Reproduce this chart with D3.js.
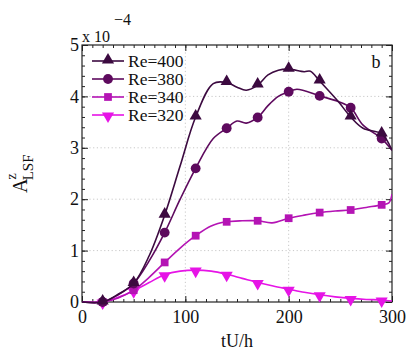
<!DOCTYPE html>
<html><head><meta charset="utf-8">
<script src="https://cdn.jsdelivr.net/npm/d3@7"></script>
<style>body{margin:0;background:#fff}svg{display:block}svg text{font-family:"Liberation Serif","Tinos","Times New Roman",serif;fill:#111}</style>
</head><body><svg id="c" width="411" height="353"></svg>
<script>
// ---- data ----
const seriesNames = ["Re=400", "Re=380", "Re=340", "Re=320"];
const seriesColors = ["#3c0a40", "#5e0a5e", "#b414b4", "#e614e6"];
const seriesSymbols = ["triangle", "circle", "square", "triangleDown"];
const markerT = [20, 50, 80, 110, 140, 170, 200, 230, 260, 290];

const re400T = [0, 20, 35, 50, 65, 80, 95, 110, 127, 140, 150, 159, 170, 180, 190, 200, 215, 221, 230, 248, 260, 272, 290, 300];
const re400V = [0, 0, 0.15, 0.36, 0.9, 1.69, 2.65, 3.6, 4.25, 4.27, 4.18, 4.12, 4.22, 4.42, 4.51, 4.53, 4.48, 4.49, 4.30, 3.9, 3.6, 3.38, 3.27, 2.95];
const re380T = [0, 20, 35, 50, 65, 80, 95, 110, 127, 140, 150, 159, 170, 180, 190, 200, 208, 230, 248, 260, 272, 290, 300];
const re380V = [0, 0, 0.14, 0.36, 0.8, 1.35, 2.0, 2.6, 3.18, 3.38, 3.52, 3.48, 3.59, 3.82, 4.0, 4.09, 4.14, 4.01, 3.9, 3.78, 3.44, 3.18, 2.95];
const re340T = [0, 20, 35, 50, 65, 80, 95, 110, 125, 140, 155, 170, 184, 200, 215, 230, 245, 260, 275, 290, 297, 300];
const re340V = [0, 0, 0.08, 0.23, 0.48, 0.77, 1.05, 1.29, 1.48, 1.56, 1.58, 1.58, 1.54, 1.63, 1.69, 1.74, 1.77, 1.79, 1.84, 1.89, 1.93, 2.1];
const re320T = [0, 20, 35, 50, 65, 80, 95, 110, 125, 140, 155, 170, 185, 200, 215, 230, 245, 260, 275, 290, 300];
const re320V = [0, 0, 0.09, 0.22, 0.38, 0.53, 0.6, 0.62, 0.6, 0.54, 0.46, 0.38, 0.31, 0.25, 0.19, 0.14, 0.1, 0.07, 0.05, 0.04, 0.02];

const xTicks = [0, 100, 200, 300];
const yTicks = [0, 1, 2, 3, 4, 5];
const xLabel = "tU/h";
const panelLabel = "b";

// ---- layout ----
const FONT = '"Liberation Serif","Tinos","Times New Roman",serif';
const svg = d3.select("#c");
const L = 82, R = 392, T = 45, B = 302;
const x = d3.scaleLinear().domain([0, 300]).range([L, R]);
const y = d3.scaleLinear().domain([0, 5]).range([B, T]);

const seriesT = [re400T, re380T, re340T, re320T];
const seriesV = [re400V, re380V, re340V, re320V];

// grid
const grid = svg.append("g").attr("stroke", "#c8c8c8").attr("stroke-width", 1).attr("stroke-dasharray", "1.2,2.5");
xTicks.slice(1, -1).forEach(t => grid.append("line").attr("x1", x(t)).attr("x2", x(t)).attr("y1", T).attr("y2", B));
yTicks.slice(1, -1).forEach(t => grid.append("line").attr("x1", L).attr("x2", R).attr("y1", y(t)).attr("y2", y(t)));

function addTicks(axisFn, scale, tickVals, len, transform) {
  const a = axisFn(scale).tickValues(tickVals).tickSize(len).tickFormat("");
  const g = svg.append("g").attr("transform", transform).call(a);
  g.select(".domain").remove();
  g.selectAll(".tick line").attr("stroke", "#222");
  return g;
}
function styleText(g) {
  g.attr("font-family", FONT);
  g.selectAll("text").style("font-size", "18px").style("font-family", FONT).attr("fill", "#111");
}
const xMinor = d3.range(0, 301, 10);
const yMinor = d3.range(0, 26).map(k => k * 0.2);
// bottom
addTicks(d3.axisTop, x, xMinor, 3, `translate(0,${B})`);
addTicks(d3.axisTop, x, xTicks, 6, `translate(0,${B})`);
const gxl = svg.append("g").attr("transform", `translate(0,${B})`)
  .call(d3.axisBottom(x).tickValues(xTicks).tickSize(0).tickPadding(8).tickFormat(d3.format("d")));
gxl.select(".domain").remove();
styleText(gxl);
// top
addTicks(d3.axisBottom, x, xMinor, 3, `translate(0,${T})`);
addTicks(d3.axisBottom, x, xTicks, 6, `translate(0,${T})`);
// left
addTicks(d3.axisRight, y, yMinor, 3, `translate(${L},0)`);
addTicks(d3.axisRight, y, yTicks, 6, `translate(${L},0)`);
const gyl = svg.append("g").attr("transform", `translate(${L},0)`)
  .call(d3.axisLeft(y).tickValues(yTicks).tickSize(0).tickPadding(3).tickFormat(d3.format("d")));
gyl.select(".domain").remove();
styleText(gyl);
// right
addTicks(d3.axisLeft, y, yMinor, 3, `translate(${R},0)`);
addTicks(d3.axisLeft, y, yTicks, 6, `translate(${R},0)`);

// frame
svg.append("rect").attr("x", L).attr("y", T).attr("width", R - L).attr("height", B - T)
  .attr("fill", "none").attr("stroke", "#222").attr("stroke-width", 1.2);

// clip
svg.append("clipPath").attr("id", "clip").append("rect").attr("x", L).attr("y", T - 2).attr("width", R - L).attr("height", B - T + 4);

const line = d3.line().x(d => x(d[0])).y(d => y(d[1])).curve(d3.curveCatmullRom.alpha(0.5));
const symMap = { triangle: d3.symbolTriangle, circle: d3.symbolCircle, square: d3.symbolSquare };
function symbolPath(name, size) {
  if (name === "triangleDown") return d3.symbol(d3.symbolTriangle, size)();
  return d3.symbol(symMap[name], size)();
}
function symbolTransform(name, px, py) {
  if (name === "triangleDown") return `translate(${px},${py + 1}) rotate(180)`;
  if (name === "triangle") return `translate(${px},${py - 1})`;
  return `translate(${px},${py})`;
}
const symSize = {triangle: 64, circle: 76, square: 60, triangleDown: 64};

for (let i = 3; i >= 0; i--) {
  const pts = seriesT[i].map((t, k) => [t, seriesV[i][k]]);
  const g = svg.append("g").attr("clip-path", "url(#clip)");
  g.append("path").attr("d", line(pts)).attr("fill", "none")
    .attr("stroke", seriesColors[i]).attr("stroke-width", 1.6);
  const mk = pts.filter(p => markerT.includes(p[0]));
  svg.append("g").selectAll("path").data(mk).join("path")
    .attr("d", symbolPath(seriesSymbols[i], symSize[seriesSymbols[i]]))
    .attr("transform", d => symbolTransform(seriesSymbols[i], x(d[0]), y(d[1])))
    .attr("fill", seriesColors[i]);
}

// legend
const legY0 = 61, legDy = 18;
seriesNames.forEach((name, i) => {
  const yy = legY0 + i * legDy;
  svg.append("line").attr("x1", 92).attr("x2", 124).attr("y1", yy).attr("y2", yy)
    .attr("stroke", seriesColors[i]).attr("stroke-width", 1.6);
  svg.append("path").attr("d", symbolPath(seriesSymbols[i], symSize[seriesSymbols[i]]))
    .attr("transform", symbolTransform(seriesSymbols[i], 108, yy)).attr("fill", seriesColors[i]);
  svg.append("text").attr("x", 128).attr("y", yy + 5.5).style("font-size", "17.5px").style("font-family", FONT).text(name);
});

svg.append("text").attr("x", 376).attr("y", 68).attr("text-anchor", "middle").style("font-size", "18px").style("font-family", FONT).text(panelLabel);

svg.append("text").attr("x", 82).attr("y", 42).style("font-size", "16px").style("font-family", FONT).text("x 10");
svg.append("text").attr("x", 114).attr("y", 25).style("font-size", "16px").style("font-family", FONT).text("\u22124");

svg.append("text").attr("x", 237).attr("y", 347).attr("text-anchor", "middle").style("font-size", "18px").style("font-family", FONT).text(xLabel);

const yLab = svg.append("text").attr("transform", "translate(27,193) rotate(-90)").style("font-size", "20px").style("font-family", FONT);
yLab.append("tspan").text("A");
yLab.append("tspan").attr("dy", -11).attr("dx", -1).style("font-size", "14px").text("z");
yLab.append("tspan").attr("dy", 17).attr("dx", -7).style("font-size", "15px").text("LSF");
</script></body></html>
